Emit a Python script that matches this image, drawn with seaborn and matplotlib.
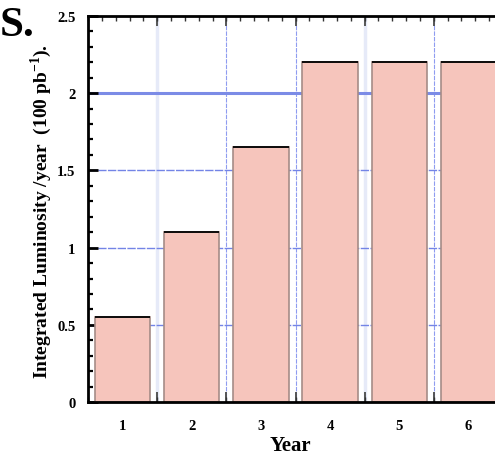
import matplotlib.pyplot as plt
import numpy as np
import pandas as pd
import seaborn as sns

years = [1, 2, 3, 4, 5, 6]
luminosity = [0.55, 1.1, 1.65, 2.2, 2.2, 2.2]

bar_fill = "#f6c5bc"
bar_edge = "#a58c87"

sns.set_style("ticks")
plt.rcParams['font.family'] = ['Liberation Serif', 'DejaVu Serif']
plt.rcParams['font.weight'] = 'bold'
plt.rcParams['text.color'] = 'black'
plt.rcParams['axes.labelcolor'] = 'black'
plt.rcParams['xtick.color'] = 'black'
plt.rcParams['ytick.color'] = 'black'
plt.rcParams['mathtext.fontset'] = 'custom'
plt.rcParams['mathtext.rm'] = 'Liberation Serif:bold'
plt.rcParams['mathtext.bf'] = 'Liberation Serif:bold'

df = pd.DataFrame({"Year": years, "lum": luminosity})

fig = plt.figure(figsize=(4.95, 4.56), dpi=100)
ax = fig.add_axes([0.178, 0.116, 0.838, 0.847])

# grid lines behind the bars
vgrid = [(1.5, "#e6eaf8", 2.5, "-"), (2.5, "#8f9cf0", 0.8, (0, (4, 1))),
         (3.5, "#8f9cf0", 0.8, (0, (4, 1))), (4.5, "#e6eaf8", 2.5, "-"),
         (5.5, "#8f9cf0", 0.8, (0, (4, 1)))]
for xv, c, lw, ls in vgrid:
    ax.axvline(xv, color=c, lw=lw, ls=ls, zorder=0)
for yv in [0.5, 1.0, 1.5]:
    ax.axhline(yv, color="#7384e6", lw=1.0, ls=(0, (6, 1)), zorder=0)
ax.axhline(2.0, color="#7b8be6", lw=2.2, zorder=0)

sns.barplot(data=df, x="Year", y="lum", native_scale=True, width=0.8,
            color=bar_fill, saturation=1, edgecolor=bar_edge, linewidth=1.2,
            ax=ax, zorder=2)
# black top edge on each bar
ax.hlines(df["lum"], df["Year"] - 0.4, df["Year"] + 0.4, color="black", lw=1.3, zorder=3)

ax.set_xlim(0.5, 6.5)
ax.set_ylim(0, 2.5)

ax.set_xticks(years)
ax.set_xticklabels([str(y) for y in years])
ax.set_xticks(np.arange(0.5, 6.51, 0.2), minor=True)
ax.set_yticks(np.arange(0, 2.51, 0.5))
ax.set_yticklabels(["0", "0.5", "1", "1.5", "2", "2.5"])
ax.set_yticks(np.arange(0, 2.51, 0.1), minor=True)

ax.tick_params(axis='x', which='major', length=0, pad=12, labelsize=10.5)
ax.tick_params(axis='x', which='minor', direction='in', length=3.5, width=1,
               top=True, bottom=True, color="#333333")
ax.tick_params(axis='y', which='major', direction='in', length=7, width=2,
               labelsize=10.5, pad=9)
ax.tick_params(axis='y', which='minor', direction='in', length=3.5, width=1.6)
for lab in ax.get_xticklabels() + ax.get_yticklabels():
    lab.set_fontweight('bold')

# longer ticks at the half-year boundaries
for side in ['bottom', 'top']:
    sec = ax.secondary_xaxis(side)
    sec.set_xticks([1.5, 2.5, 3.5, 4.5, 5.5])
    sec.tick_params(direction='in', length=7, width=1.4, color="#555555",
                    labelbottom=False, labeltop=False)
    sec.spines[side].set_visible(False)

for s in ['left', 'bottom', 'top']:
    ax.spines[s].set_linewidth(2)
    ax.spines[s].set_color('black')

ax.set_xlabel("Year", fontsize=15, fontweight='bold')
ax.xaxis.set_label_coords(0.488, -0.085)
ax.set_ylabel(r"Integrated Luminosity /year  (100 pb$^{-1}$).",
              fontsize=14, fontweight='bold')
ax.yaxis.set_label_coords(-0.083, 0.497)

fig.text(0.0, 0.985, "S.", fontsize=31, va='top', ha='left')

fig.savefig("out.png", dpi=100)
